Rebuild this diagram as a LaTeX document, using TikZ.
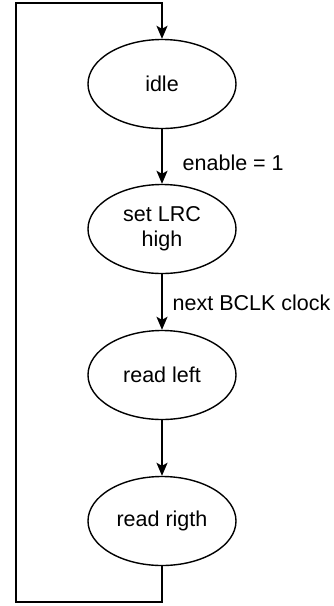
\documentclass[tikz,border=0pt]{standalone}
\usepackage{fontspec}
\setmainfont{Liberation Sans}
\usetikzlibrary{shapes.geometric}
\usetikzlibrary{positioning}
\usetikzlibrary{arrows.meta}
\tikzset{
    state/.style = {ellipse, line width=1.4pt, draw=black, align=center, inner sep=0pt,
                    minimum width=148pt, minimum height=89pt, font=\fontsize{21.5}{25}\selectfont},
    edgen/.style = {-{Stealth[length=13pt,width=11pt,inset=3pt]},line width=1.4pt},
    lbl/.style = {font=\fontsize{21.5}{25}\selectfont, inner sep=0pt}
}

\begin{document}
\begin{tikzpicture}[x=1pt,y=-1pt]
\useasboundingbox (0,0) rectangle (334,606);
\node[state] at (162, 84) (idle) {idle};
\node[state] at (162,229) (lrc) {set LRC\\high};
\node[state] at (162,375) (rl) {read left};
\node[state] at (162,521) (rr) {read rigth};
\coordinate (bl) at (16,602);
\coordinate (tl) at (16,3);
%
\draw[edgen] (idle) edge node[lbl, anchor=west, xshift=20pt, yshift=-6pt] {enable = 1} (lrc);
\draw[edgen] (lrc) edge node[lbl, anchor=west, xshift=10pt, yshift=-1pt] {next BCLK clock} (rl);
\draw[edgen] (rl) edge (rr);
\draw[edgen] (rr.south) |- (bl) -- (tl) -| (idle.north);
\end{tikzpicture}
\end{document}
